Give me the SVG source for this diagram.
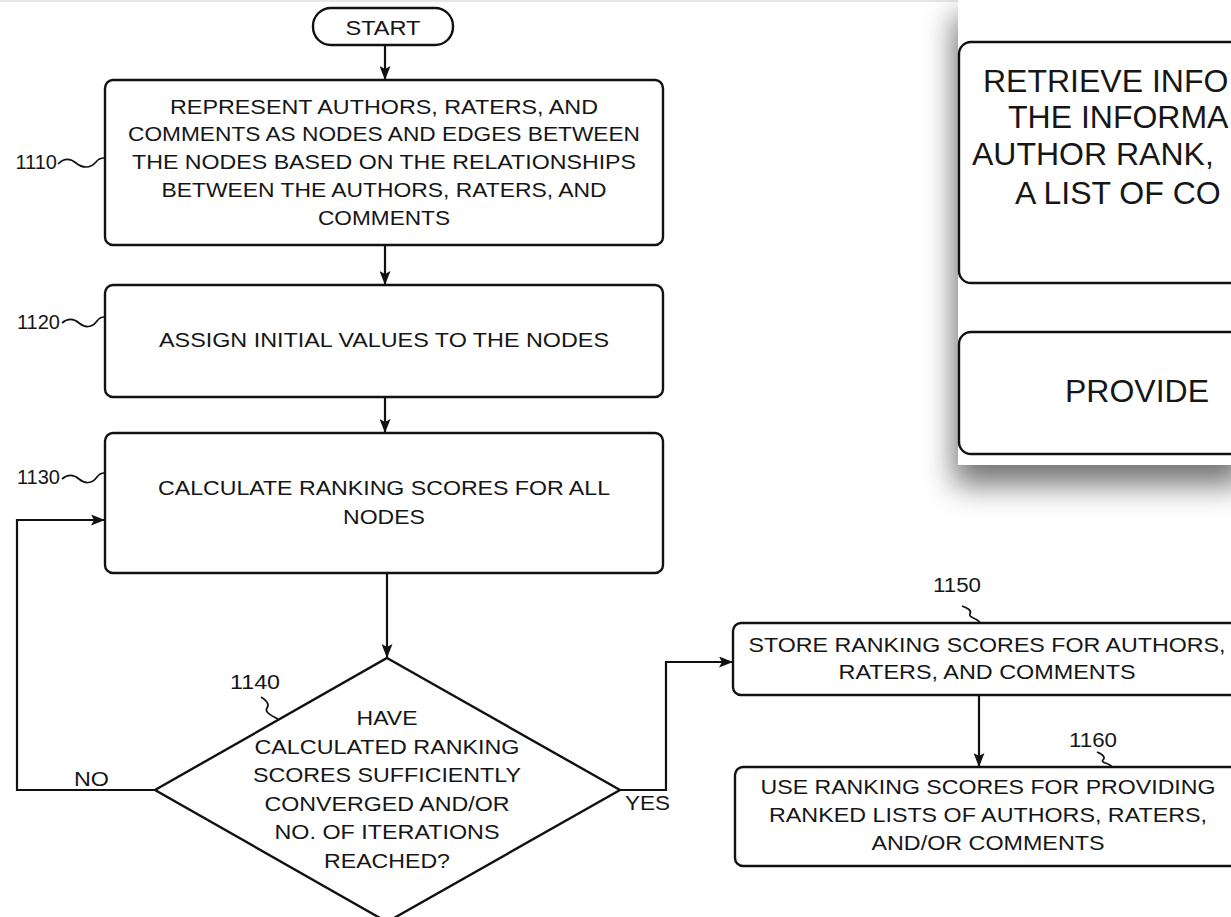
<svg xmlns="http://www.w3.org/2000/svg" width="1231" height="917" viewBox="0 0 1231 917">
<defs>
<style>
.box{fill:#fff;stroke:#111;stroke-width:2.4}
.ln{fill:none;stroke:#111;stroke-width:2.2}
.sq{fill:none;stroke:#111;stroke-width:1.7}
.t{font-family:"Liberation Sans",Arial,sans-serif;font-size:21px;fill:#161616;text-anchor:middle}
.lbl{font-family:"Liberation Sans",Arial,sans-serif;font-size:20px;fill:#161616}
.big{font-family:"Liberation Sans",Arial,sans-serif;font-size:32px;fill:#161616}
</style>
<marker id="ah" viewBox="0 0 14 11" refX="14" refY="5.5" markerWidth="14" markerHeight="11" markerUnits="userSpaceOnUse" orient="auto">
<path d="M0,0 L14,5.5 L0,11 L3,5.5 Z" fill="#111"/>
</marker>
<filter id="shadow" x="-30%" y="-10%" width="160%" height="130%">
<feDropShadow dx="-4" dy="20" stdDeviation="15" flood-color="#000" flood-opacity="0.55"/>
</filter>
</defs>
<rect x="0" y="0" width="1231" height="917" fill="#fff"/>
<rect x="0" y="0" width="1231" height="2" fill="#e6e6e6"/>

<g id="connectors">
<line class="ln" x1="385" y1="45" x2="385" y2="80" marker-end="url(#ah)"/>
<line class="ln" x1="385" y1="245" x2="385" y2="285" marker-end="url(#ah)"/>
<line class="ln" x1="385" y1="397" x2="385" y2="433" marker-end="url(#ah)"/>
<line class="ln" x1="387" y1="573" x2="387" y2="658" marker-end="url(#ah)"/>
<polyline class="ln" points="155,790 17,790 17,520 105,520" marker-end="url(#ah)"/>
<polyline class="ln" points="620,790 666,790 666,662 733,662" marker-end="url(#ah)"/>
<line class="ln" x1="979" y1="695" x2="979" y2="767" marker-end="url(#ah)"/>
<text class="lbl" x="74" y="786" textLength="35" lengthAdjust="spacingAndGlyphs">NO</text>
<text class="lbl" x="625" y="810" textLength="45" lengthAdjust="spacingAndGlyphs">YES</text>
</g>

<g id="start">
<rect class="box" x="313" y="8" width="140" height="37" rx="18"/>
<text class="t" x="383" y="35" font-size="22" textLength="75" lengthAdjust="spacingAndGlyphs">START</text>
</g>

<g id="n1110">
<rect class="box" x="105" y="80" width="558" height="165" rx="8"/>
<text class="t" x="384" y="114" textLength="428" lengthAdjust="spacingAndGlyphs">REPRESENT AUTHORS, RATERS, AND</text>
<text class="t" x="384" y="141" textLength="512" lengthAdjust="spacingAndGlyphs">COMMENTS AS NODES AND EDGES BETWEEN</text>
<text class="t" x="384" y="169" textLength="504" lengthAdjust="spacingAndGlyphs">THE NODES BASED ON THE RELATIONSHIPS</text>
<text class="t" x="384" y="197" textLength="445" lengthAdjust="spacingAndGlyphs">BETWEEN THE AUTHORS, RATERS, AND</text>
<text class="t" x="384" y="225" textLength="132" lengthAdjust="spacingAndGlyphs">COMMENTS</text>
<text class="lbl" x="57" y="169" text-anchor="end">1110</text>
<path class="sq" d="M58,164 C64,158 70,158 76,163 S90,169 96,162 Q99,158 104,158"/>
</g>

<g id="n1120">
<rect class="box" x="105" y="285" width="558" height="112" rx="8"/>
<text class="t" x="384" y="347" textLength="450" lengthAdjust="spacingAndGlyphs">ASSIGN INITIAL VALUES TO THE NODES</text>
<text class="lbl" x="60" y="329" text-anchor="end">1120</text>
<path class="sq" d="M62,323 C68,318 73,318 79,323 S92,328 97,321 Q100,317 104,317"/>
</g>

<g id="n1130">
<rect class="box" x="105" y="433" width="558" height="140" rx="8"/>
<text class="t" x="384" y="495" textLength="452" lengthAdjust="spacingAndGlyphs">CALCULATE RANKING SCORES FOR ALL</text>
<text class="t" x="384" y="524" textLength="82" lengthAdjust="spacingAndGlyphs">NODES</text>
<text class="lbl" x="60" y="484" text-anchor="end">1130</text>
<path class="sq" d="M62,479 C68,474 73,474 79,479 S92,484 97,477 Q100,473 104,473"/>
</g>

<g id="n1140">
<polygon class="box" points="387,658 620,790 387,922 155,790"/>
<text class="t" x="387" y="725" textLength="61" lengthAdjust="spacingAndGlyphs">HAVE</text>
<text class="t" x="387" y="754" textLength="265" lengthAdjust="spacingAndGlyphs">CALCULATED RANKING</text>
<text class="t" x="387" y="782" textLength="268" lengthAdjust="spacingAndGlyphs">SCORES SUFFICIENTLY</text>
<text class="t" x="387" y="811" textLength="245" lengthAdjust="spacingAndGlyphs">CONVERGED AND/OR</text>
<text class="t" x="387" y="839" textLength="225" lengthAdjust="spacingAndGlyphs">NO. OF ITERATIONS</text>
<text class="t" x="387" y="868" textLength="126" lengthAdjust="spacingAndGlyphs">REACHED?</text>
<text class="lbl" x="230" y="689" textLength="50" lengthAdjust="spacingAndGlyphs">1140</text>
<path class="sq" d="M261,697 C266,700 270,704 267,708 C264,712 272,716 278,719"/>
</g>

<g id="n1150">
<rect class="box" x="733" y="623" width="530" height="72" rx="8"/>
<text class="t" x="987" y="652" textLength="477" lengthAdjust="spacingAndGlyphs">STORE RANKING SCORES FOR AUTHORS,</text>
<text class="t" x="987" y="679" textLength="297" lengthAdjust="spacingAndGlyphs">RATERS, AND COMMENTS</text>
<text class="lbl" x="957" y="592" text-anchor="middle" textLength="48" lengthAdjust="spacingAndGlyphs">1150</text>
<path class="sq" d="M962,606 C967,608 972,610 970,614 C968,618 978,618 980,623"/>
</g>

<g id="n1160">
<rect class="box" x="735" y="767" width="530" height="99" rx="8"/>
<text class="t" x="988" y="794" textLength="455" lengthAdjust="spacingAndGlyphs">USE RANKING SCORES FOR PROVIDING</text>
<text class="t" x="988" y="822" textLength="438" lengthAdjust="spacingAndGlyphs">RANKED LISTS OF AUTHORS, RATERS,</text>
<text class="t" x="988" y="850" textLength="233" lengthAdjust="spacingAndGlyphs">AND/OR COMMENTS</text>
<text class="lbl" x="1093" y="747" text-anchor="middle" textLength="48" lengthAdjust="spacingAndGlyphs">1160</text>
<path class="sq" d="M1097,752 C1102,754 1106,757 1103,760 C1100,763 1110,763 1112,767"/>
</g>

<g id="inset">
<rect x="958" y="-4" width="290" height="469" fill="#fff" filter="url(#shadow)"/>
<rect x="958" y="-4" width="290" height="469" fill="#fff"/>
<g id="n-retrieve">
<rect class="box" x="959" y="42" width="300" height="241" rx="12" stroke-width="2.8"/>
<text class="big" x="983" y="92">RETRIEVE INFO</text>
<text class="big" x="1008" y="128">THE INFORMA</text>
<text class="big" x="972" y="165">AUTHOR RANK,</text>
<text class="big" x="1015" y="204">A LIST OF CO</text>
</g>
<g id="n-provide">
<rect class="box" x="959" y="332" width="300" height="122" rx="12" stroke-width="2.8"/>
<text class="big" x="1065" y="402">PROVIDE</text>
</g>
</g>
</svg>
